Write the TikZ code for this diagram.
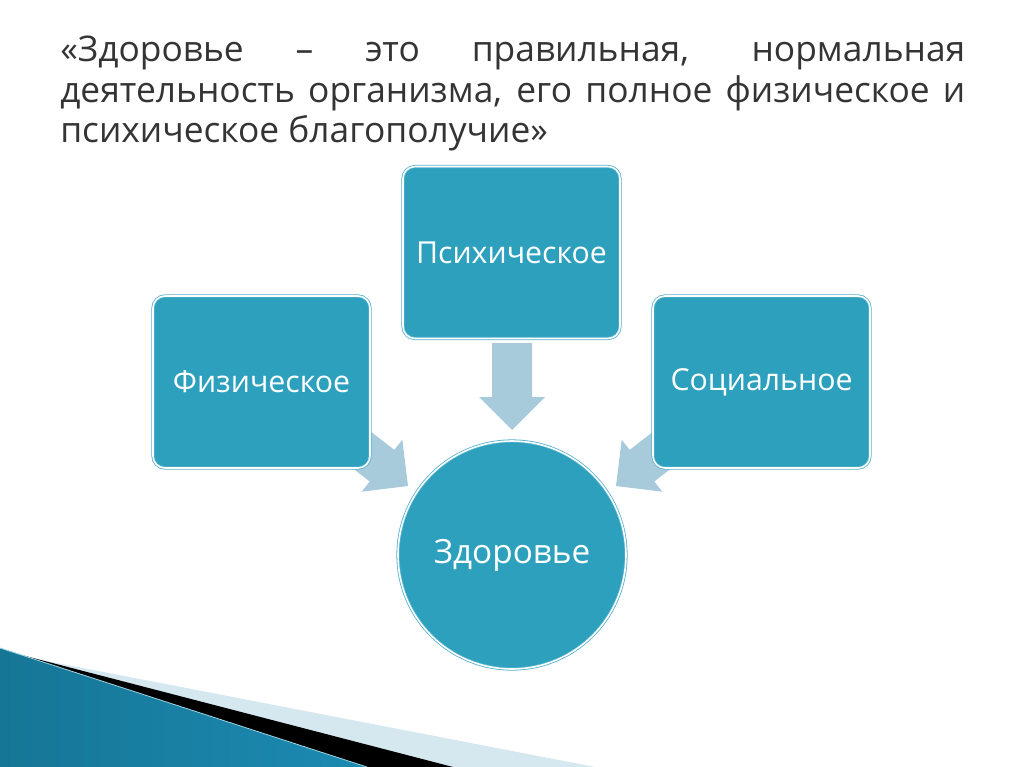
\documentclass[tikz,border=0pt]{standalone}
\usepackage{fontspec}
\setmainfont{Open Sans}
\definecolor{tealfill}{RGB}{45,160,190}
\definecolor{tealedge}{RGB}{85,178,206}
\definecolor{arrowc}{RGB}{168,203,219}
\definecolor{titlec}{RGB}{52,52,52}
\definecolor{lightband}{RGB}{213,231,239}
\definecolor{swdark}{RGB}{22,118,150}
\definecolor{swlight}{RGB}{88,186,222}
\definecolor{swright}{RGB}{28,138,178}
\begin{document}
\begin{tikzpicture}[x=0.75pt,y=-0.75pt,
  box/.style={rectangle, rounded corners=9pt, fill=tealfill, draw=tealedge,
    double=white, double distance=1.2pt, line width=0.6pt,
    minimum width=162.75pt, minimum height=129pt, inner sep=0pt,
    text=white, font=\fontsize{22.7}{27}\selectfont},
  hub/.style={circle, fill=tealfill, draw=tealedge, double=white,
    double distance=1.2pt, line width=0.6pt, minimum size=171pt,
    inner sep=0pt, text=white, font=\fontsize{25}{30}\selectfont},
  blockarrow/.style={fill=arrowc}]
\useasboundingbox (0,0) rectangle (1024,767);
\fill[white] (0,0) rectangle (1024,767);

% bottom-left swoosh
\fill[lightband] (0,652) -- (595,767) -- (0,767) -- cycle;
\fill[black] (0,649.4) -- (453,767) -- (0,767) -- cycle;
\shade[left color=swdark, middle color=swlight, right color=swright]
  (0,648) -- (367,767) -- (0,767) -- cycle;
\draw[white!55!tealfill, line width=0.6pt] (0,648) -- (367,767);

% title
\node[anchor=north west, text width=678.75pt, align=justify, inner sep=0pt,
  text=titlec, font=\fontsize{26.5}{30.2}\selectfont] (title) at (60,36)
  {«Здоровье – это правильная, нормальная\linebreak
   деятельность организма, его полное физическое и\linebreak
   психическое благополучие»};

% block arrows
\coordinate (tipD) at (512,430);
\coordinate (tipL) at (408,486);
\coordinate (tipR) at (616,486);
\fill[blockarrow] (492,343) -- (532,343) -- (532,397) -- (545,397) -- (tipD)
  -- (479,397) -- (492,397) -- cycle;
\fill[blockarrow] (tipL) -- (361.7,491.7) -- (369.7,481.5) -- (322.4,444.7)
  -- (347.0,413.1) -- (394.3,449.9) -- (402.3,439.7) -- cycle;
\fill[blockarrow] (tipR) -- (662.3,491.7) -- (654.3,481.5) -- (701.6,444.7)
  -- (677.0,413.1) -- (629.7,449.9) -- (621.7,439.7) -- cycle;

% nodes
\node[box] (psy) at (511.5,252.5) {Психическое};
\node[box] (phys) at (261.5,382) {Физическое};
\node[box] (soc) at (761.5,382) {Социальное};
\node[hub] (health) at (512,555) {Здоровье};
\end{tikzpicture}
\end{document}
